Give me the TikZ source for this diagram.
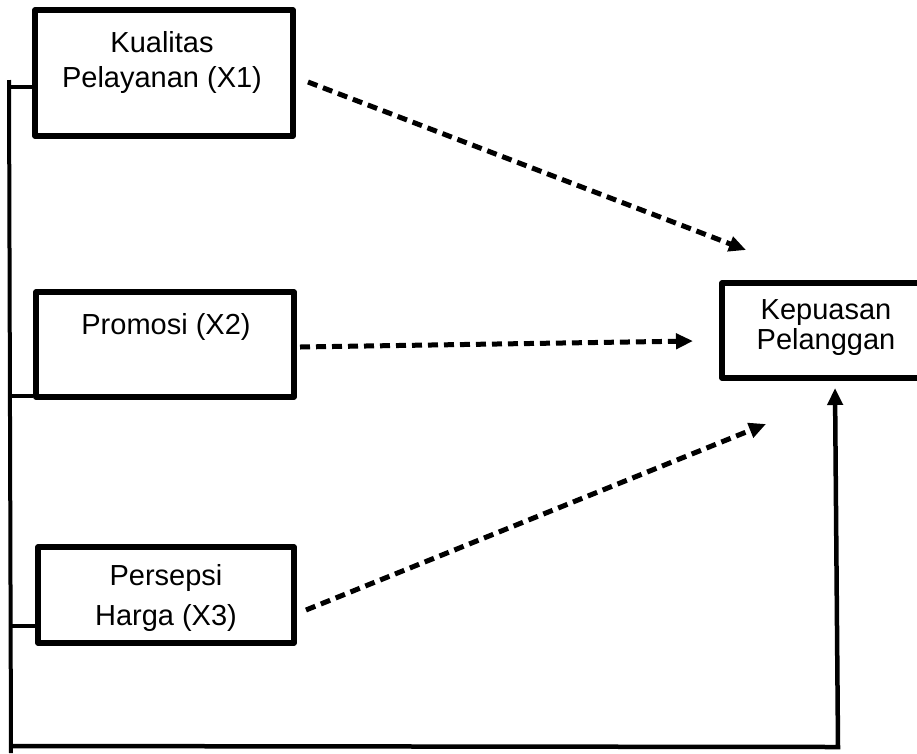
\documentclass[tikz,border=0pt]{standalone}
\usepackage{fontspec}
\setmainfont{Liberation Sans}
\usetikzlibrary{arrows.meta}
\begin{document}
\begin{tikzpicture}[x=1pt,y=-1pt,
  box/.style={draw,line width=5.5pt,inner sep=0pt,line join=round},
  lbl/.style={align=center,inner sep=0pt},
  dasharrow/.style={line width=5pt,dash pattern=on 10pt off 6pt,-{Triangle[length=17pt,width=15pt]}},
  bus/.style={line width=4pt},
  stub/.style={line width=4.5pt},
  solidarrow/.style={line width=4.5pt,-{Triangle[length=17pt,width=15pt]}},
]
\useasboundingbox (0,0) rectangle (917,753);
% boxes
\node[box,minimum width=258pt,minimum height=126pt] (b1) at (164,73) {};
\node[box,minimum width=258pt,minimum height=105pt] (b2) at (165,344.5) {};
\node[box,minimum width=256pt,minimum height=96pt] (b3) at (166,595) {};
\node[box,minimum width=208pt,minimum height=95pt] (by) at (826,330.5) {};
% labels
\node[lbl,font=\fontsize{29}{35}\selectfont] (t1) at (162,62) {Kualitas\\Pelayanan (X1)};
\node[lbl,font=\fontsize{29}{35}\selectfont] (t2) at (166,327) {Promosi (X2)};
\node[lbl,font=\fontsize{29}{40}\selectfont] (t3) at (166,598) {Persepsi\\Harga (X3)};
\node[lbl,font=\fontsize{29}{30}\selectfont] (ty) at (826,328) {Kepuasan\\Pelanggan};
% left bus
\coordinate (busTop) at (9,80);
\coordinate (busBot) at (11,753);
\draw[bus] (busTop) -- (busBot);
\coordinate (s1) at (9,87);
\coordinate (s2) at (10,396);
\coordinate (s3) at (11,626);
\draw[stub] (s1) -- (s1 -| b1.west);
\draw[stub] (s2) -- (s2 -| b2.west);
\draw[stub] (s3) -- (s3 -| b3.west);
% dashed arrows
\coordinate (a1s) at (308,82);
\coordinate (a1e) at (746,250);
\coordinate (a2s) at (300,347);
\coordinate (a2e) at (693,341);
\coordinate (a3s) at (306,610);
\coordinate (a3e) at (766,424);
\draw[dasharrow] (a1s) -- (a1e);
\draw[dasharrow] (a2s) -- (a2e);
\draw[dasharrow] (a3s) -- (a3e);
% bottom return
\coordinate (c1) at (11,746);
\coordinate (c2) at (838,747);
\coordinate (c3) at (835,388);
\draw[solidarrow] (c1) -- (c2) -- (c3);
\end{tikzpicture}
\end{document}
